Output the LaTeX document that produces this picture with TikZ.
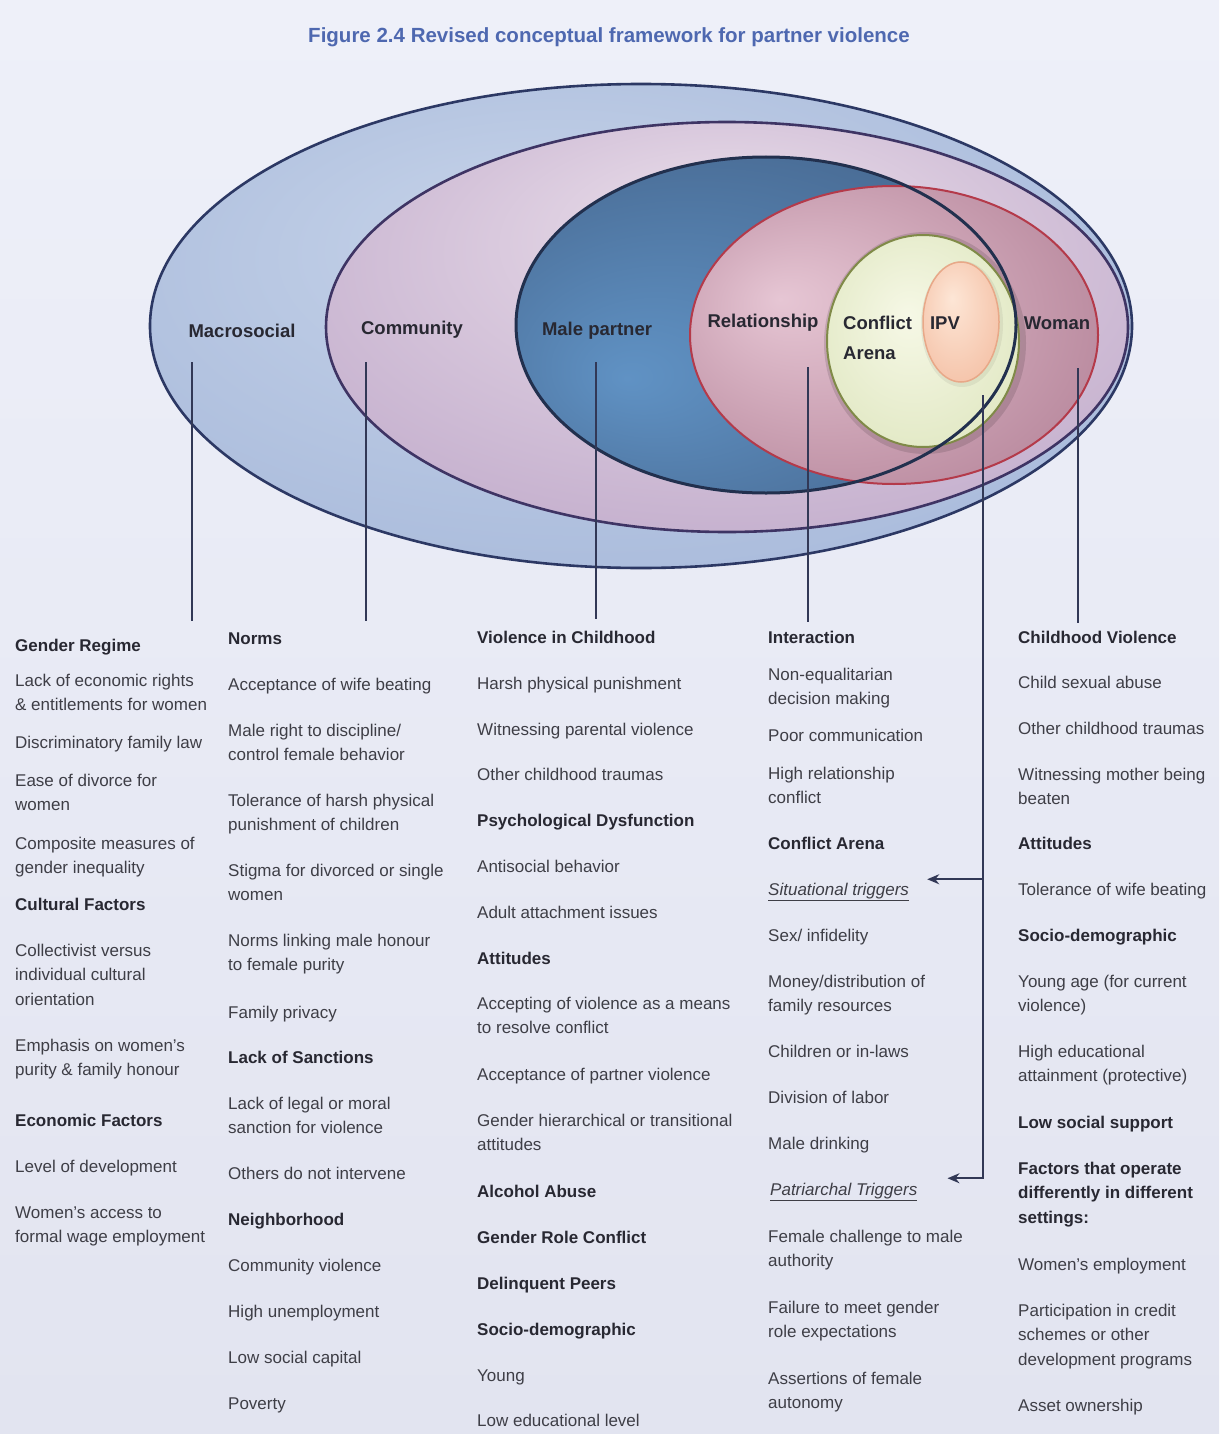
\documentclass[tikz,border=0pt]{standalone}
\usepackage{fontspec}
\setmainfont{Liberation Sans}
\usetikzlibrary{arrows.meta, calc}

\definecolor{pagetop}{RGB}{238,240,249}
\definecolor{pagebot}{RGB}{226,228,240}
\definecolor{macroin}{RGB}{198,211,233}
\definecolor{macroout}{RGB}{154,174,212}
\definecolor{macroline}{RGB}{44,56,100}
\definecolor{commin}{RGB}{234,222,234}
\definecolor{commout}{RGB}{176,150,190}
\definecolor{commline}{RGB}{62,52,100}
\definecolor{malein}{RGB}{96,146,196}
\definecolor{maleout}{RGB}{60,86,122}
\definecolor{maleline}{RGB}{34,48,78}
\definecolor{relin}{RGB}{230,198,212}
\definecolor{relout}{RGB}{162,106,130}
\definecolor{relline}{RGB}{180,58,74}
\definecolor{arenain}{RGB}{246,248,230}
\definecolor{arenaout}{RGB}{212,222,174}
\definecolor{arenaline}{RGB}{128,138,72}
\definecolor{ipvin}{RGB}{253,230,214}
\definecolor{ipvout}{RGB}{240,174,142}
\definecolor{ipvline}{RGB}{232,168,136}
\definecolor{titleblue}{RGB}{78,104,176}
\definecolor{inktext}{RGB}{62,62,70}
\definecolor{headtext}{RGB}{40,40,50}
\definecolor{pinline}{RGB}{50,56,86}

% soft radial glows for the nested rings
\pgfdeclareradialshading{macroglow}{\pgfpoint{-6bp}{10bp}}{color(0bp)=(macroin); color(50bp)=(macroout)}
\pgfdeclareradialshading{commglow}{\pgfpoint{0bp}{14bp}}{color(0bp)=(commin); color(50bp)=(commout)}
\pgfdeclareradialshading{maleglow}{\pgfpoint{-14bp}{-8bp}}{color(0bp)=(malein); color(50bp)=(maleout)}
\pgfdeclareradialshading{relglow}{\pgfpoint{-14bp}{6bp}}{color(0bp)=(relin); color(50bp)=(relout)}
\pgfdeclareradialshading{arenaglow}{\pgfpoint{-4bp}{6bp}}{color(0bp)=(arenain); color(50bp)=(arenaout)}
\pgfdeclareradialshading{ipvglow}{\pgfpoint{-6bp}{10bp}}{color(0bp)=(ipvin); color(50bp)=(ipvout)}

\tikzset{
	fact/.style={anchor=north west, inner sep=0pt, align=left, text=inktext, font=\fontsize{17}{24.5}\selectfont},
	head/.style={fact, text=headtext, font=\fontsize{17}{24.5}\selectfont\bfseries},
	lbl/.style={inner sep=0pt, text=headtext, font=\fontsize{18.5}{30}\selectfont\bfseries},
	pin/.style={draw=pinline, line width=2.2pt},
	tip/.style={-{Stealth[length=12pt, width=10pt]}},
	ring/.style={line width=2.6pt}
}

\begin{document}
\begin{tikzpicture}[x=1pt, y=-1pt]
	\useasboundingbox (0,0) rectangle (1219,1434);
	\shade[top color=pagetop, bottom color=pagebot] (0,0) rectangle (1219,1434);
	
	% --- Title ---
	\node[text=titleblue, font=\fontsize{20.5}{24}\selectfont\bfseries] (title) at (609,37) {Figure 2.4 Revised conceptual framework for partner violence};
	
	% --- Nested ellipses: fills first ---
	\shade[shading=macroglow] (641,326) ellipse [x radius=491pt, y radius=242pt];
	\shade[shading=commglow] (727,327) ellipse [x radius=401pt, y radius=205pt];
	\shade[shading=maleglow] (766,325) ellipse [x radius=250pt, y radius=168pt];
	\shade[shading=relglow] (894,335) ellipse [x radius=204pt, y radius=149pt];
	\fill[black, opacity=.12] (925,343) ellipse [x radius=101pt, y radius=111pt];
	\shade[shading=arenaglow] (923,341) ellipse [x radius=96pt, y radius=106pt];
	\fill[black, opacity=.06] (962,324) ellipse [x radius=41pt, y radius=63pt];
	\shade[shading=ipvglow] (961,322) ellipse [x radius=38pt, y radius=60pt];
	
	% --- then the outlines on top ---
	\draw[ring, macroline] (641,326) ellipse [x radius=491pt, y radius=242pt];
	\draw[ring, commline] (727,327) ellipse [x radius=401pt, y radius=205pt];
	\draw[ring, relline, line width=2pt] (894,335) ellipse [x radius=204pt, y radius=149pt];
	\draw[ring, arenaline, line width=2pt] (923,341) ellipse [x radius=96pt, y radius=106pt];
	\draw[ipvline, line width=1.5pt] (961,322) ellipse [x radius=38pt, y radius=60pt];
	\draw[ring, maleline, line width=3pt] (766,325) ellipse [x radius=250pt, y radius=168pt];
	
	% --- Ring labels ---
	\node[lbl] (macro) at (242,331) {Macrosocial};
	\node[lbl] (comm) at (412,330) {Community};
	\node[lbl] (male) at (597,331) {Male partner};
	\node[lbl] (rel) at (763,323) {Relationship};
	\node[lbl, align=left, anchor=north west] (arena) at (843,316) {Conflict\\Arena};
	\node[lbl] (ipv) at (945,323) {IPV};
	\node[lbl] (woman) at (1057,323) {Woman};
	
	% --- Pins from the rings down to the columns ---
	\coordinate (macro-pin) at (192,362);
	\coordinate (macro-end) at (192,621);
	\coordinate (comm-pin) at (366,362);
	\coordinate (comm-end) at (366,621);
	\coordinate (male-pin) at (596,362);
	\coordinate (male-end) at (596,619);
	\coordinate (rel-pin) at (808,367);
	\coordinate (rel-end) at (808,622);
	\coordinate (woman-pin) at (1078,368);
	\coordinate (woman-end) at (1078,623);
	\coordinate (ipv-pin) at (983,395);
	\foreach \p in {macro,comm,male,rel,woman}
		\draw[pin] (\p-pin) -- (\p-end);
	
	% --- Column 1: Macrosocial ---
	\foreach \y/\s/\t [count=\i] in {
		651/head/{Gender Regime},
		686/fact/{Lack of economic rights\\\& entitlements for women},
		748/fact/{Discriminatory family law},
		786/fact/{Ease of divorce for\\women},
		849/fact/{Composite measures of\\gender inequality},
		910/head/{Cultural Factors},
		956/fact/{Collectivist versus\\individual cultural\\orientation},
		1051/fact/{Emphasis on women's\\purity \& family honour},
		1126/head/{Economic Factors},
		1172/fact/{Level of development},
		1218/fact/{Women's access to\\formal wage employment}}
		\node[\s] (macro-\i) at (15,{\y-17.2}) {\strut\t};
	
	% --- Column 2: Community ---
	\foreach \y/\s/\t [count=\i] in {
		644/head/{Norms},
		690/fact/{Acceptance of wife beating},
		736/fact/{Male right to discipline/\\control female behavior},
		806/fact/{Tolerance of harsh physical\\punishment of children},
		876/fact/{Stigma for divorced or single\\women},
		946/fact/{Norms linking male honour\\to female purity},
		1018/fact/{Family privacy},
		1063/head/{Lack of Sanctions},
		1109/fact/{Lack of legal or moral\\sanction for violence},
		1179/fact/{Others do not intervene},
		1225/head/{Neighborhood},
		1271/fact/{Community violence},
		1317/fact/{High unemployment},
		1363/fact/{Low social capital},
		1409/fact/{Poverty}}
		\node[\s] (comm-\i) at (228,{\y-17.2}) {\strut\t};
	
	% --- Column 3: Male partner ---
	\foreach \y/\s/\t [count=\i] in {
		643/head/{Violence in Childhood},
		689/fact/{Harsh physical punishment},
		735/fact/{Witnessing parental violence},
		780/fact/{Other childhood traumas},
		826/head/{Psychological Dysfunction},
		872/fact/{Antisocial behavior},
		918/fact/{Adult attachment issues},
		964/head/{Attitudes},
		1009/fact/{Accepting of violence as a means\\to resolve conflict},
		1080/fact/{Acceptance of partner violence},
		1126/fact/{Gender hierarchical or transitional\\attitudes},
		1197/head/{Alcohol Abuse},
		1243/head/{Gender Role Conflict},
		1289/head/{Delinquent Peers},
		1335/head/{Socio-demographic},
		1381/fact/{Young},
		1426/fact/{Low educational level}}
		\node[\s] (male-\i) at (477,{\y-17.2}) {\strut\t};
	
	% --- Column 4: Relationship ---
	\foreach \y/\s/\t [count=\i] in {
		643/head/{Interaction},
		680/fact/{Non-equalitarian\\decision making},
		741/fact/{Poor communication},
		779/fact/{High relationship\\conflict},
		849/head/{Conflict Arena},
		941/fact/{Sex/ infidelity},
		987/fact/{Money/distribution of\\family resources},
		1057/fact/{Children or in-laws},
		1103/fact/{Division of labor},
		1149/fact/{Male drinking},
		1242/fact/{Female challenge to male\\authority},
		1313/fact/{Failure to meet gender\\role expectations},
		1384/fact/{Assertions of female\\autonomy}}
		\node[\s] (rel-\i) at (768,{\y-17.2}) {\strut\t};
	\node[fact] (sit) at (768,{895-17.2}) {\strut\underline{\itshape Situational triggers}};
	\node[fact] (pat) at (770,{1195-17.2}) {\strut\underline{\itshape Patriarchal Triggers}};
	
	% --- Column 5: Woman ---
	\foreach \y/\s/\t [count=\i] in {
		643/head/{Childhood Violence},
		688/fact/{Child sexual abuse},
		734/fact/{Other childhood traumas},
		780/fact/{Witnessing mother being\\beaten},
		849/head/{Attitudes},
		895/fact/{Tolerance of wife beating},
		941/head/{Socio-demographic},
		987/fact/{Young age (for current\\violence)},
		1057/fact/{High educational\\attainment (protective)},
		1128/head/{Low social support},
		1174/head/{Factors that operate\\differently in different\\settings:},
		1270/fact/{Women's employment},
		1316/fact/{Participation in credit\\schemes or other\\development programs},
		1411/fact/{Asset ownership}}
		\node[\s] (woman-\i) at (1018,{\y-17.2}) {\strut\t};
	
	% --- IPV pin feeds the two trigger groups ---
	\coordinate (sit-tip) at ([xshift=18pt, yshift=11pt]sit.east);
	\coordinate (pat-tip) at ([xshift=30pt, yshift=12pt]pat.east);
	\draw[pin, tip] (ipv-pin) |- (pat-tip);
	\draw[pin, tip] (ipv-pin |- sit-tip) -- (sit-tip);
	
\end{tikzpicture}
\end{document}
